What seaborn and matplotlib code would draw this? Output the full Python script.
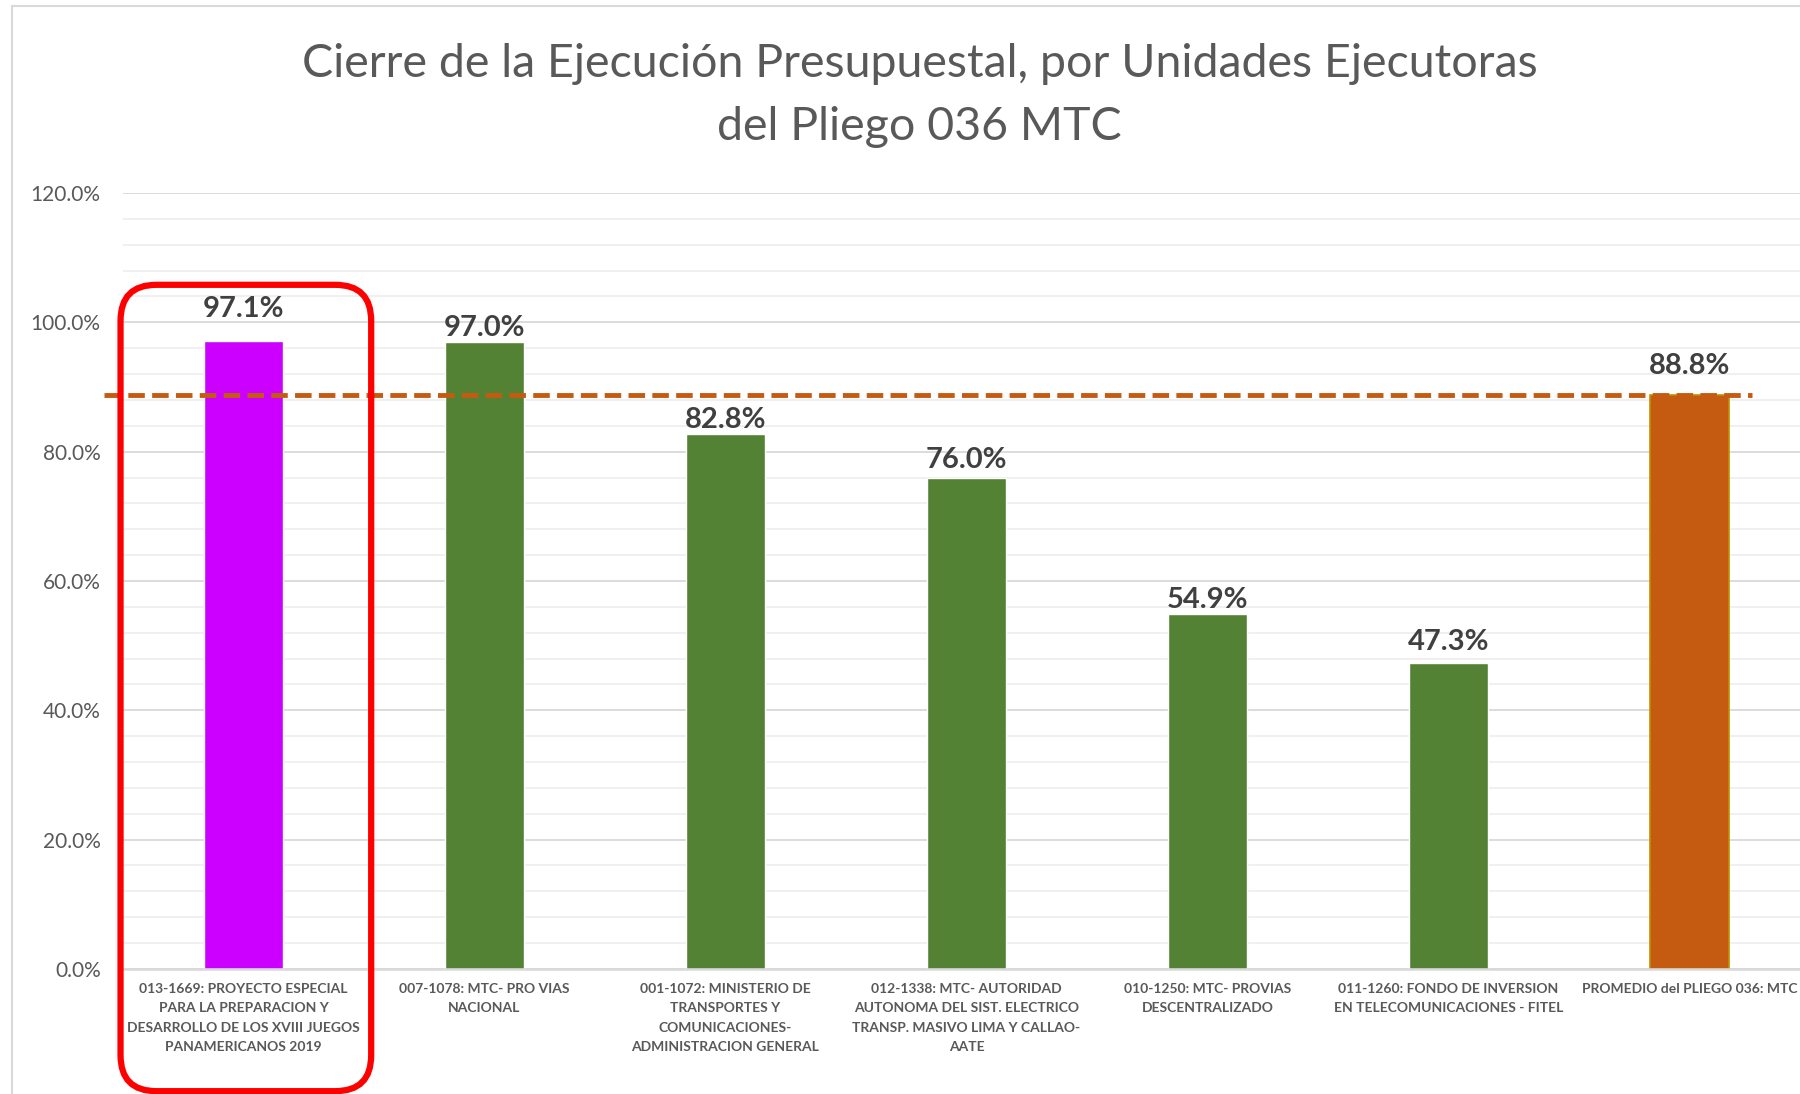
import numpy as np
import pandas as pd
import matplotlib
matplotlib.use("Agg")
import matplotlib.pyplot as plt
from matplotlib.patches import FancyBboxPatch, Rectangle
from matplotlib.ticker import MultipleLocator, FuncFormatter
import seaborn as sns

unidades = [
    "013-1669: PROYECTO ESPECIAL\nPARA LA PREPARACION Y\nDESARROLLO DE LOS XVIII JUEGOS\nPANAMERICANOS 2019",
    "007-1078: MTC- PRO VIAS\nNACIONAL",
    "001-1072: MINISTERIO DE\nTRANSPORTES Y\nCOMUNICACIONES-\nADMINISTRACION GENERAL",
    "012-1338: MTC- AUTORIDAD\nAUTONOMA DEL SIST. ELECTRICO\nTRANSP. MASIVO LIMA Y CALLAO-\nAATE",
    "010-1250: MTC- PROVIAS\nDESCENTRALIZADO",
    "011-1260: FONDO DE INVERSION\nEN TELECOMUNICACIONES - FITEL",
    "PROMEDIO del PLIEGO 036: MTC",
]
ejecucion = [97.1, 97.0, 82.8, 76.0, 54.9, 47.3, 88.8]
colores = ["#CC00FF", "#548235", "#548235", "#548235", "#548235", "#548235", "#C55A11"]
promedio = 88.8

df = pd.DataFrame({"unidad": unidades, "ejecucion": ejecucion})

sns.set_theme(style="white")
plt.rcParams["font.family"] = ["Lato", "DejaVu Sans"]

fig = plt.figure(figsize=(18, 10.94), dpi=100)
ax = fig.add_axes([0.0683, 0.1143, 0.9373, 0.7093])

sns.barplot(data=df, x="unidad", y="ejecucion", hue="unidad", palette=colores,
            legend=False, width=0.33, ax=ax, saturation=1)
ax.patches[-1].set_edgecolor("#BF9000")
ax.patches[-1].set_linewidth(1.2)

ax.set_ylim(0, 120)
ax.set_xlim(-0.5, 6.5)
ax.yaxis.set_major_locator(MultipleLocator(20))
ax.yaxis.set_minor_locator(MultipleLocator(4))
ax.yaxis.set_major_formatter(FuncFormatter(lambda v, p: f"{v:.1f}%"))
ax.grid(axis="y", which="major", color="#D9D9D9", lw=1.3)
ax.grid(axis="y", which="minor", color="#ECECEC", lw=1.1)
ax.set_axisbelow(True)
for s in ["top", "right", "left"]:
    ax.spines[s].set_visible(False)
ax.spines["bottom"].set_color("#D9D9D9")
ax.spines["bottom"].set_linewidth(1.8)
ax.tick_params(axis="y", which="both", length=0, pad=16, labelsize=15, labelcolor="#595959")
ax.tick_params(axis="x", length=0, pad=10)
for lbl in ax.get_xticklabels():
    lbl.set_fontsize(10)
    lbl.set_fontweight("bold")
    lbl.set_color("#595959")
    lbl.set_linespacing(1.75)
    lbl.set_multialignment("center")
ax.set_xlabel("")
ax.set_ylabel("")

# etiquetas de valor (desplazamiento vertical en puntos, como en el original)
desplaz = [14, 0.5, 0.5, 3, 1, 6, 11.5]
for i, v in enumerate(ejecucion):
    ax.annotate(f"{v:.1f}%", (i, v), xytext=(0, desplaz[i]), textcoords="offset points",
                ha="center", va="bottom", fontsize=21, fontweight="bold", color="#404040")

# linea del promedio
ax.hlines(promedio, -0.58, 6.26, colors="#C55A11", lw=3.5, linestyles=(0, (3.4, 1.5)),
          clip_on=False, zorder=4)

# recuadro rojo sobre la primera unidad
to_in = ax.transData + fig.dpi_scale_trans.inverted()
(x0, y0) = to_in.transform((-0.51, -18.9))
(x1, y1) = to_in.transform((0.53, 105.8))
box = FancyBboxPatch((x0, y0), x1 - x0, y1 - y0,
                     boxstyle="round,pad=0,rounding_size=0.36",
                     transform=fig.dpi_scale_trans, fill=False,
                     edgecolor="#FF0000", lw=4.5, clip_on=False, zorder=5)
fig.add_artist(box)

# borde del grafico
fig.add_artist(Rectangle((12 / 1800, -0.1), 1.2, 1 - 6 / 1094 + 0.1, transform=fig.transFigure,
                         fill=False, edgecolor="#D9D9D9", lw=1.5))

fig.text(0.511, 0.913, "Cierre de la Ejecución Presupuestal, por Unidades Ejecutoras\ndel Pliego 036 MTC",
         ha="center", va="center", fontsize=33.5, color="#595959", linespacing=1.62)

fig.savefig("out.png", dpi=100)
